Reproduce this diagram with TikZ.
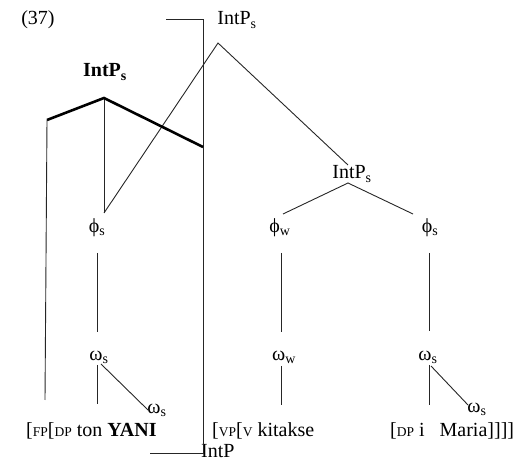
\documentclass[tikz,border=0pt]{standalone}
\usepackage{fontspec}
\setmainfont{Liberation Serif}
\newcommand{\mysub}[1]{\textsubscript{#1}}
\newcommand{\mysc}[1]{{\fontsize{13.5}{14}\selectfont #1}}
\begin{document}
\begin{tikzpicture}[x=1pt,y=-1pt,
  lbl/.style={inner sep=0pt, font=\fontsize{20}{21}\selectfont},
  ln/.style={line width=0.9pt, black!85},
  boldln/.style={line width=2.6pt, black}]
\useasboundingbox (0,0) rectangle (523,462);
% labels
\node[lbl] (num) at (38,20) {(37)};
\node[lbl] (top) at (237,20) {IntP\mysub{s}};
\node[lbl] (bld) at (105,72) {\textbf{IntP\mysub{s}}};
\node[lbl] (low) at (352,174) {IntP\mysub{s}};
\node[lbl] (phL) at (97,228) {ϕ\mysub{s}};
\node[lbl] (phM) at (280,228) {ϕ\mysub{w}};
\node[lbl] (phR) at (430,228) {ϕ\mysub{s}};
\node[lbl] (omL) at (99,357) {ω\mysub{s}};
\node[lbl] (omM) at (284,357) {ω\mysub{w}};
\node[lbl] (omR) at (428,357) {ω\mysub{s}};
\node[lbl] (omLs) at (157,410) {ω\mysub{s}};
\node[lbl] (omRs) at (477,409) {ω\mysub{s}};
\node[lbl, anchor=base west] (wL) at (26,437) {[\mysc{FP}[\mysc{DP} ton \textbf{YANI}};
\node[lbl, anchor=base west] (wM) at (212,437) {[\mysc{VP}[\mysc{V} kitakse};
\node[lbl, anchor=base west] (wR) at (390,437) {[\mysc{DP} i\hspace{0.75em}Maria]]]]};
\node[lbl, anchor=west] (bot) at (201,451) {IntP};
% coordinates
\coordinate (brT) at (166,19);
\coordinate (brTR) at (203,19);
\coordinate (brBR) at (203,453);
\coordinate (brB) at (150,453);
\coordinate (apT) at (218,43);
\coordinate (apL) at (348,183);
\coordinate (lowTop) at (348,165);
\coordinate (phLtop) at (104,213);
\coordinate (phMtop) at (283,214);
\coordinate (phRtop) at (413,214);
\coordinate (bA) at (47,120);
\coordinate (bB) at (104,98);
\coordinate (bC) at (203,147);
\coordinate (lvB) at (45,400);
\coordinate (v1a) at (97,253); \coordinate (v1b) at (97,332);
\coordinate (v2a) at (281,253); \coordinate (v2b) at (281,332);
\coordinate (v3a) at (429,253); \coordinate (v3b) at (429,331);
\coordinate (w1a) at (97,365); \coordinate (w1b) at (97,404);
\coordinate (d1a) at (101,364); \coordinate (d1b) at (148,410);
\coordinate (w2a) at (281,366); \coordinate (w2b) at (281,405);
\coordinate (w3a) at (429,365); \coordinate (w3b) at (429,405);
\coordinate (d3a) at (431,366); \coordinate (d3b) at (468,405);
% lines
\draw[ln] (brT) -- (brTR) -- (brBR) -- (brB);
\draw[ln] (phLtop) -- (apT) -- (lowTop);
\draw[ln] (phMtop) -- (apL) -- (phRtop);
\draw[ln] (bB) -- (phLtop);
\draw[ln] (bA) -- (lvB);
\draw[boldln, line join=miter] (bA) -- (bB) -- (bC);
\draw[ln] (v1a) -- (v1b);
\draw[ln] (v2a) -- (v2b);
\draw[ln] (v3a) -- (v3b);
\draw[ln] (w1a) -- (w1b);
\draw[ln] (d1a) -- (d1b);
\draw[ln] (w2a) -- (w2b);
\draw[ln] (w3a) -- (w3b);
\draw[ln] (d3a) -- (d3b);
\end{tikzpicture}
\end{document}
